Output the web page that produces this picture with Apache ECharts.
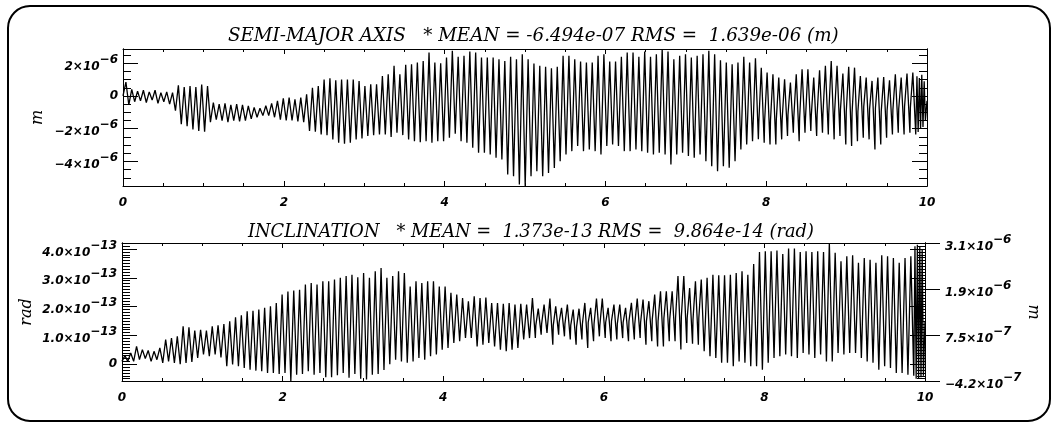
<!DOCTYPE html>
<html><head><meta charset="utf-8">
<script src="https://cdn.jsdelivr.net/npm/echarts@6/dist/echarts.min.js"></script>
<style>html,body{margin:0;padding:0;background:#fff}#c{width:1056px;height:426px}</style>
</head><body><div id="c"></div>
<script>
// ---------------- DATA ----------------
// Semi-major axis residual, per oscillation cycle, in units of 1e-6 m
const smaStart = 0.0;
const smaPeaks = [0.85,0.4,0.3,0.35,0.25,0.35,0.2,0.25,0.2,0.65,0.55,0.6,0.55,0.7,0.6,-0.4,-0.5,-0.45,-0.55,-0.5,-0.55,-0.6,-0.7,-0.75,-0.6,-0.45,-0.3,-0.15,-0.1,-0.2,-0.1,0.1,0.5,0.6,1.0,1.08,0.96,1.0,1.0,1.0,0.92,0.61,0.71,0.71,1.22,1.33,
1.84,1.33,1.9,1.94,2.04,2.14,2.65,2.04,2.0,2.35,2.76,2.39,2.45,2.71,2.65,2.35,2.35,2.35,2.24,2.14,2.39,2.24,2.55,2.24,1.98,1.84,1.78,1.7,1.78,2.45,2.45,2.24,2.1,2.04,2.04,2.45,2.55,2.1,2.1,2.39,2.65,2.65,2.39,2.71,2.39,2.55,2.87,
2.71,2.24,2.45,2.55,2.35,2.45,2.55,2.76,2.55,2.18,2.04,1.94,2.04,2.39,2.04,2.3,1.73,1.43,1.33,1.12,1.02,0.82,1.33,1.63,1.63,1.12,1.57,1.84,2.14,1.84,1.37,1.78,1.73,1.22,1.12,0.92,1.12,1.16,0.96,1.33,1.12,1.37,1.43];
const smaTroughs = [-0.55,-0.35,-0.3,-0.4,-0.25,-0.45,-0.35,-0.5,-0.9,-1.73,-1.84,-2.04,-2.14,-2.18,-1.6,-1.45,-1.5,-1.6,-1.5,-1.55,-1.5,-1.4,-1.3,-1.2,-1.2,-1.3,-1.45,-1.5,-1.5,-1.55,-1.6,
-2.14,-2.18,-2.35,-2.4,-2.65,-2.86,-2.92,-2.86,-2.65,-2.6,-2.45,-2.39,-2.35,-2.35,-2.51,
-2.24,-2.39,-2.65,-2.76,-2.82,-2.76,-2.86,-2.76,-2.76,-2.55,-2.3,-2.76,-2.86,-3.16,-3.47,-3.47,-3.57,-3.78,-3.88,-4.8,-4.9,-5.4,-5.5,-4.9,-4.6,-4.9,-4.7,-4.4,-3.98,-3.57,-3.37,-3.06,-3.37,-3.27,-3.37,-3.57,-3.06,-2.96,-3.06,-3.37,-3.37,-3.27,-3.37,-3.47,-3.57,-3.47,-3.57,
-4.18,-3.57,-3.47,-3.67,-3.78,-3.57,-3.98,-4.29,-4.6,-4.29,-4.39,-3.98,-3.27,-2.96,-2.76,-2.65,-2.86,-2.96,-2.96,-2.65,-2.45,-2.24,-2.76,-2.24,-2.14,-2.45,-2.24,-2.35,-2.65,-2.45,-2.96,-3.06,-2.76,-2.55,-2.65,-3.27,-2.96,-2.55,-2.35,-2.24,-2.35,-2.24,-2.35];
// short flat "kinks" on the rising edge, from cycle smaKinkFrom on
const smaKinkFrom = 109;
const smaKinks = [-1.6,-1.5,-1.5,-1.45,-1.45,-1.15,-1.3,-1.35,-1.4,-1.2,-1.15,-1.1,-1.05,-1.0,-0.85,-0.95,-1.0,-0.95,-0.65,-0.8,-0.75,-0.95,-0.9,-0.85,-0.8,-0.65,-0.7];
const smaTailX = [9.875,9.89,9.905,9.92,9.935,9.95,9.965,9.98,10.0];
const smaTailY = [1.2,-2.2,1.1,-2.0,1.3,-1.9,0.9,-1.5,-0.3];

// Inclination residual, per oscillation cycle, in units of 1e-13 rad
const incStart = 0.1;
const incPeaks = [0.3,0.39,0.62,0.51,0.48,0.45,0.57,0.86,0.91,0.97,1.32,1.28,1.17,1.2,1.17,1.32,1.35,1.4,1.49,1.63,1.7,1.84,1.86,1.9,1.96,2.01,2.13,2.42,2.53,2.56,2.59,2.77,2.82,2.77,2.88,2.88,2.94,3.0,3.06,3.11,3.02,3.17,3.0,3.23,3.34,3.0,
3.06,3.23,3.17,2.7,2.88,2.82,2.88,2.88,2.7,2.7,2.48,2.42,2.3,2.19,2.36,2.3,2.32,2.13,2.13,2.1,2.13,2.07,2.1,2.07,2.3,1.93,2.07,2.28,2.01,1.96,2.07,1.9,1.93,2.13,1.96,2.28,2.28,1.96,2.07,2.07,1.96,2.13,2.28,2.25,2.19,2.42,2.53,
2.53,2.53,3.06,3.06,2.65,2.88,2.94,3.0,3.11,3.09,3.09,3.11,3.17,3.23,3.11,3.48,3.9,3.92,3.92,3.95,3.83,4.02,4.02,3.9,3.92,3.9,3.92,3.9,4.21,3.87,3.58,3.75,3.78,3.52,3.69,3.63,3.52,3.78,3.75,3.69,3.52,3.69,3.75];
const incTroughs = [0.1,0.1,0.16,0.2,0.1,0.16,0.05,0.1,0.05,0.0,0.05,0.08,0.22,0.34,0.28,0.34,0.24,-0.07,-0.01,-0.07,-0.13,-0.19,-0.22,-0.24,-0.3,-0.3,-0.34,-0.3,-0.58,-0.36,-0.34,-0.24,-0.36,-0.3,-0.45,-0.45,-0.38,-0.3,-0.47,-0.34,-0.5,-0.53,-0.36,-0.34,-0.2,0.0,
0.16,0.1,0.05,0.1,0.22,0.16,0.28,0.34,0.51,0.57,0.74,0.8,0.91,0.91,0.62,0.68,0.74,0.62,0.51,0.45,0.51,0.57,0.86,0.91,0.91,1.03,1.09,0.68,1.03,0.97,0.86,0.68,0.86,0.57,0.8,0.97,0.91,0.8,0.86,0.91,0.8,0.86,0.91,0.68,0.8,0.62,
0.62,
0.8,0.8,0.51,0.74,0.71,0.68,0.45,0.28,0.22,0.05,0.05,-0.07,0.1,0.05,-0.07,-0.07,-0.19,0.05,0.22,0.28,0.34,0.28,0.22,0.39,0.34,0.22,0.34,0.1,0.1,0.39,0.34,0.39,0.39,0.22,0.1,0.05,-0.19,-0.07,-0.13,-0.3,-0.3,-0.36,
-0.4];
const incKinkFrom = 71;
const incKinks = [1.35,1.4,1.3,1.35,1.45,1.4,1.35,1.3,1.4,1.45,1.4,1.35,1.45,1.5,1.4,1.45,1.5,1.4,1.45,1.5,1.55,1.5,1.6,1.55,1.6,1.65,1.6,1.55,1.6];
const incTailX = [9.875,9.89,9.905,9.92,9.935,9.95,9.965,9.98,10.0];
const incTailY = [4.1,-0.5,4.15,-0.5,4.1,-0.45,4.0,-0.4,1.5];

const CYCLES_END = 9.86;           // x where the regular cycles end
const SMA_UNIT = 1e-6, INC_UNIT = 1e-13;

// Axis ranges and tick labels
const smaRange = [-5.5e-6, 2.87e-6];
const smaMajorVals = [-4e-6, -2e-6, 0, 2e-6];
const smaMajorLabels = [['−4×10','−6'],['−2×10','−6'],['0',''],['2×10','−6']];
const incRange = [-0.58e-13, 4.21e-13];
const incMajorVals = [0, 1e-13, 2e-13, 3e-13, 4e-13];
const incMajorLabels = [['0',''],['1.0×10','−13'],['2.0×10','−13'],['3.0×10','−13'],['4.0×10','−13']];
const mRange = [-4.2e-7, 3.1e-6];
const mMajorVals = [-4.2e-7, 7.53e-7, 1.927e-6, 3.1e-6];
const mMajorLabels = [['−4.2×10','−7'],['7.5×10','−7'],['1.9×10','−6'],['3.1×10','−6']];
const xTickLabels = ['0','2','4','6','8','10'];

const smaTitle = 'SEMI-MAJOR AXIS   * MEAN = -6.494e-07 RMS =  1.639e-06 (m)';
const incTitle = 'INCLINATION   * MEAN =  1.373e-13 RMS =  9.864e-14 (rad)';

// ---------------- BUILD ----------------
function buildLine(start, peaks, troughs, kinkFrom, kinks, tailX, tailY, unit) {
  const n = peaks.length, step = CYCLES_END / n;
  const pts = [[0, start * unit]];
  for (let i = 0; i < n; i++) {
    const k = kinks[i - kinkFrom];
    if (k !== undefined && i > 0) {
      pts.push([(i + 0.08) * step, k * unit]);
      pts.push([(i + 0.36) * step, k * unit]);
    }
    pts.push([(i + 0.5) * step, peaks[i] * unit]);
    pts.push([(i + 1) * step, troughs[i] * unit]);
  }
  for (let i = 0; i < tailX.length; i++) pts.push([tailX[i], tailY[i] * unit]);
  return pts;
}
function steps(lo, hi, st) { const a = []; for (let k = Math.ceil(lo / st - 1e-9); k * st <= hi + 1e-21; k++) a.push(k * st); return a; }

const SANS = 'DejaVu Sans', SERIF = 'DejaVu Serif';
const rich = {
  m: {fontFamily: SANS, fontWeight: 'bold', fontStyle: 'italic', fontSize: 12, color: '#000', lineHeight: 19, verticalAlign: 'bottom'},
  e: {fontFamily: SANS, fontWeight: 'bold', fontStyle: 'italic', fontSize: 12, color: '#000', verticalAlign: 'top'},
  z: {fontFamily: SANS, fontWeight: 'bold', fontStyle: 'italic', fontSize: 12, color: '#000'}
};
function fmt(vals, labels) {
  return function (v) {
    let b = 0, bd = Infinity;
    vals.forEach((t, i) => { const d = Math.abs(t - v); if (d < bd) { bd = d; b = i; } });
    const [m, e] = labels[b];
    return e ? '{m|' + m + '}{e|' + e + '}' : '{z|' + m + '}';
  };
}
const line = {show: true, onZero: false, lineStyle: {color: '#000', width: 1}};
function yAx(grid, range, pos, opt) {
  return Object.assign({
    type: 'value', gridIndex: grid, position: pos, min: range[0], max: range[1],
    axisLine: line, splitLine: {show: false}, axisLabel: {show: false},
    axisTick: {show: false}, nameMoveOverlap: false
  }, opt);
}
function ticks(vals, len, inside) { return {show: true, inside: inside, length: len, customValues: vals, lineStyle: {color: '#000', width: 1}}; }
function xAx(grid, pos, labels) {
  return {
    type: 'value', gridIndex: grid, position: pos, min: 0, max: 10, interval: 2,
    axisLine: line, splitLine: {show: false},
    axisTick: {show: true, inside: true, length: 5, lineStyle: {color: '#000'}},
    minorTick: {show: true, splitNumber: 4, length: 3, lineStyle: {color: '#000'}},
    axisLabel: labels ? {show: true, margin: 11, color: '#000', fontFamily: SANS, fontWeight: 'bold', fontStyle: 'italic', fontSize: 12,
      formatter: v => xTickLabels[Math.round(v / 2)]} : {show: false}
  };
}
const smaMinor = steps(smaRange[0], smaRange[1], 0.5e-6);
const incMinor = steps(incRange[0], incRange[1], 0.1e-13);
const nameStyle = {fontFamily: SERIF, fontStyle: 'italic', fontSize: 16, color: '#000'};
const titleStyle = {fontFamily: SERIF, fontStyle: 'italic', fontWeight: 'normal', color: '#000'};

const chart = echarts.init(document.getElementById('c'), null, {renderer: 'canvas'});
chart.setOption({
  animation: false,
  backgroundColor: '#fff',
  title: [
    {text: smaTitle, left: 228, top: 27, padding: 0, textStyle: Object.assign({fontSize: 18.3}, titleStyle)},
    {text: incTitle, left: 248, top: 223, padding: 0, textStyle: Object.assign({fontSize: 17.8}, titleStyle)}
  ],
  graphic: [{type: 'rect', shape: {x: 8, y: 6, width: 1042, height: 415, r: 22}, style: {fill: null, stroke: '#000', lineWidth: 2}, silent: true}],
  grid: [
    {left: 123, top: 49, width: 804, height: 137},
    {left: 122, top: 243, width: 803, height: 138}
  ],
  xAxis: [xAx(0, 'bottom', true), xAx(0, 'top', false), xAx(1, 'bottom', true), xAx(1, 'top', false)],
  yAxis: [
    yAx(0, smaRange, 'left', {axisTick: ticks(smaMajorVals, 15, true),
      axisLabel: {show: true, margin: 5, customValues: smaMajorVals, formatter: fmt(smaMajorVals, smaMajorLabels), rich: rich},
      name: 'm', nameLocation: 'middle', nameGap: 77, nameRotate: 90, nameTextStyle: nameStyle}),
    yAx(0, smaRange, 'left', {axisTick: ticks(smaMinor, 8, true)}),
    yAx(0, smaRange, 'right', {axisTick: ticks(smaMajorVals, 15, true)}),
    yAx(0, smaRange, 'right', {axisTick: ticks(smaMinor, 8, true)}),
    yAx(1, incRange, 'left', {axisTick: ticks(incMajorVals, 15, true),
      axisLabel: {show: true, margin: 5, customValues: incMajorVals, formatter: fmt(incMajorVals, incMajorLabels), rich: rich},
      name: 'rad', nameLocation: 'middle', nameGap: 87, nameRotate: 90, nameTextStyle: nameStyle}),
    yAx(1, incRange, 'left', {axisTick: ticks(incMinor, 8, true)}),
    yAx(1, incRange, 'right', {axisTick: ticks(incMajorVals, 15, true)}),
    yAx(1, incRange, 'right', {axisTick: ticks(incMinor, 8, true)}),
    yAx(1, mRange, 'right', {axisTick: ticks(mMajorVals, 15, false),
      axisLabel: {show: true, margin: 20, customValues: mMajorVals, formatter: fmt(mMajorVals, mMajorLabels), rich: rich},
      name: 'm', nameLocation: 'middle', nameGap: 100, nameRotate: -90, nameTextStyle: nameStyle})
  ],
  series: [
    {type: 'line', xAxisIndex: 0, yAxisIndex: 0, data: buildLine(smaStart, smaPeaks, smaTroughs, smaKinkFrom, smaKinks, smaTailX, smaTailY, SMA_UNIT),
      showSymbol: false, symbol: 'none', lineStyle: {color: '#000', width: 1.3}, sampling: null, clip: true},
    {type: 'line', xAxisIndex: 2, yAxisIndex: 4, data: buildLine(incStart, incPeaks, incTroughs, incKinkFrom, incKinks, incTailX, incTailY, INC_UNIT),
      showSymbol: false, symbol: 'none', lineStyle: {color: '#000', width: 1.3}, sampling: null, clip: true}
  ]
});
</script></body></html>
